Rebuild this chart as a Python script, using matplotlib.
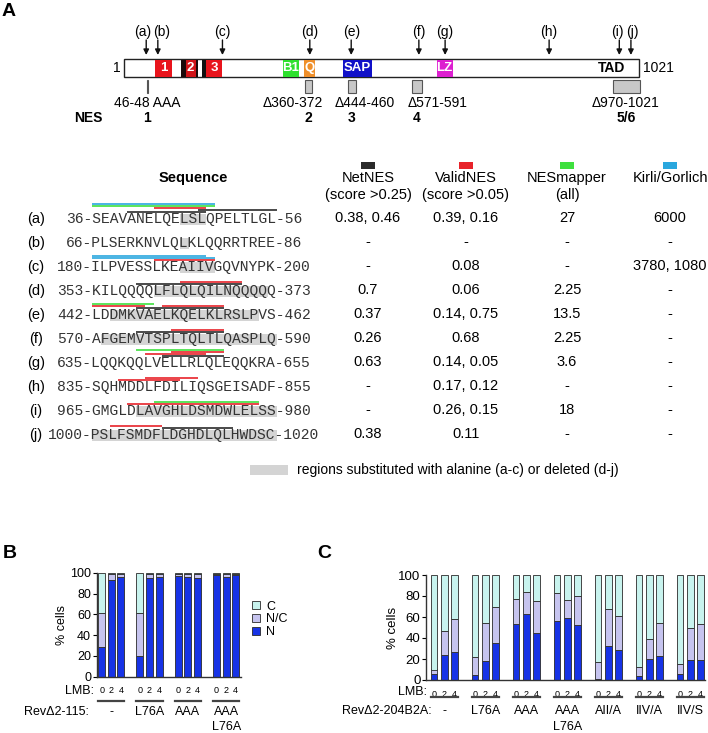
import matplotlib
matplotlib.use("Agg")
import matplotlib.pyplot as plt
from matplotlib.patches import Rectangle
import numpy as np

plt.rcParams['font.family'] = ['Liberation Sans', 'DejaVu Sans']

W, H = 708, 733

# ---------------- panel A: protein map (residue numbers) ----------------
protein_len = 1021
arrow_names = ["(a)", "(b)", "(c)", "(d)", "(e)", "(f)", "(g)", "(h)", "(i)", "(j)"]
arrow_res = [45, 68, 196, 369, 451, 585, 637, 843, 982, 1005]
arrow_label_res = [38, 76, 196, 369, 451, 585, 637, 843, 979, 1008]

dom_start = [63, 114, 123, 143, 155, 164, 315, 357, 434, 620]
dom_end = [97, 123, 143, 147, 164, 196, 347, 379, 492, 652]
dom_color = ["#e8141c", "#1a0a0a", "#d01418", "#1a0a0a", "#111111", "#e8141c",
             "#2ee02e", "#ef8f2a", "#1010c8", "#dd1fd0"]
dom_text = ["1", "", "2", "", "", "3", "B1", "Q", "SAP", "LZ"]

del_start = [46, 360, 444, 571, 970]
del_end = [48, 372, 460, 591, 1021]
del_labels = ["46-48 AAA", "\u0394360-372", "\u0394444-460", "\u0394571-591", "\u0394970-1021"]
del_label_res = [47, 335, 478, 623, 994]
nes_names = ["1", "2", "3", "4", "5/6"]
nes_res = [46, 366, 452, 581, 995]

# ---------------- panel A: sequence table ----------------
row_names = ["(a)", "(b)", "(c)", "(d)", "(e)", "(f)", "(g)", "(h)", "(i)", "(j)"]
seq_start = [36, 66, 180, 353, 442, 570, 635, 835, 965, 1000]
seq_end = [56, 86, 200, 373, 462, 590, 655, 855, 980, 1020]
sequences = ["SEAVANELQELSLQPELTLGL", "PLSERKNVLQLKLQQRRTREE", "ILPVESSLKEAIIVGQVNYPK",
             "KILQQQQLFLQLQILNQQQQQ", "LDDMKVAELKQELKLRSLPVS", "AFGEMVTSPLTQLTLQASPLQ",
             "LQQKQQLVELLRLQLEQQKRA", "SQHMDDLFDILIQSGEISADF", "GMGLDLAVGHLDSMDWLELSS",
             "PSLFSMDFLDGHDLQLHWDSC"]
# substituted / deleted stretch (character index, end exclusive)
gray_span = [(10, 13), (10, 11), (10, 14), (7, 20), (2, 19), (1, 21), None, None, (5, 21), (0, 21)]
# predicted NES stretches: (tool, first char, end char, stack level)
predicted = [
    [("net", 4, 13, 0), ("net", 12, 21, 1), ("valid", 7, 13, 2), ("mapper", 0, 14, 3), ("kirli", 0, 14, 4)],
    [],
    [("valid", 7, 14, 0), ("kirli", 0, 14, 1), ("kirli", 0, 13, 2)],
    [("net", 5, 17, 0), ("valid", 10, 17, 1)],
    [("net", 5, 15, 0), ("valid", 8, 15, 1), ("valid", 0, 6, 1), ("mapper", 0, 7, 2)],
    [("net", 5, 15, 0), ("valid", 9, 15, 1)],
    [("net", 8, 15, 0), ("valid", 6, 13, 1), ("valid", 9, 15, 2), ("mapper", 5, 15, 3)],
    [("valid", 3, 10, 0), ("valid", 6, 12, 1)],
    [("valid", 4, 10, 0), ("valid", 10, 19, 0), ("mapper", 7, 19, 1)],
    [("net", 8, 16, 0), ("valid", 2, 8, 1)],
]
tool_color = {"net": "#2b2b2b", "valid": "#e8232a", "mapper": "#3ee03e", "kirli": "#2aa7de"}

col_titles = ["NetNES\n(score >0.25)", "ValidNES\n(score >0.05)", "NESmapper\n(all)", "Kirli/Gorlich"]
col_keys = ["net", "valid", "mapper", "kirli"]
netnes = ["0.38, 0.46", "-", "-", "0.7", "0.37", "0.26", "0.63", "-", "-", "0.38"]
validnes = ["0.39, 0.16", "-", "0.08", "0.06", "0.14, 0.75", "0.68", "0.14, 0.05", "0.17, 0.12", "0.26, 0.15", "0.11"]
nesmapper = ["27", "-", "-", "2.25", "13.5", "2.25", "3.6", "-", "18", "-"]
kirli = ["6000", "-", "3780, 1080", "-", "-", "-", "-", "-", "-", "-"]

# ---------------- panels B and C ----------------
lmb = ["0", "2", "4"]
b_groups = ["-", "L76A", "AAA", "AAA\nL76A"]
b_N = [29, 93, 96, 20, 95, 96, 97, 96, 95, 98, 96, 98]
b_NC = [32, 6, 3, 41, 4, 3, 2, 3, 4, 1, 3, 1]

c_groups = ["-", "L76A", "AAA", "AAA\nL76A", "AII/A", "IIV/A", "IIV/S"]
c_N = [6, 24, 27, 5, 18, 35, 53, 63, 45, 56, 59, 52, 1, 32, 29, 4, 20, 23, 6, 19, 19]
c_N_NC = [10, 47, 58, 22, 54, 70, 77, 84, 75, 83, 76, 80, 17, 68, 61, 12, 39, 54, 15, 50, 53]

col_N, col_NC, col_C = "#1733e6", "#c6c4ef", "#c8f3ee"

fig = plt.figure(figsize=(7.08, 7.33), dpi=100)
ax0 = fig.add_axes([0, 0, 1, 1])
ax0.set_xlim(0, W)
ax0.set_ylim(H, 0)
ax0.axis("off")

ax0.text(2, 12, "A", fontsize=14, fontweight="bold", va="center")
ax0.text(3, 553, "B", fontsize=14, fontweight="bold", va="center")
ax0.text(317, 553, "C", fontsize=14, fontweight="bold", va="center")

# protein diagram
axp = fig.add_axes([124 / W, 1 - 125 / H, 515 / W, 105 / H])
axp.set_xlim(1, protein_len)
axp.set_ylim(125, 20)
axp.axis("off")
top, bot = 59, 77
axp.add_patch(Rectangle((1, top), protein_len - 1, bot - top, fc="white", ec="#222222", lw=1.0, clip_on=False))
for s, e, c, t in zip(dom_start, dom_end, dom_color, dom_text):
    axp.add_patch(Rectangle((s, top + 0.5), e - s, bot - top - 1, fc=c, ec="none", clip_on=False))
    if t:
        axp.text((s + e) / 2, (top + bot) / 2, t, color="white", fontsize=9.5, fontweight="bold",
                 ha="center", va="center")
axp.text(967, (top + bot) / 2, "TAD", fontsize=10, fontweight="bold", ha="center", va="center")
axp.text(-6, (top + bot) / 2, "1", fontsize=10, ha="right", va="center")
axp.text(protein_len + 8, (top + bot) / 2, "1021", fontsize=10, ha="left", va="center")
for r, lr, name in zip(arrow_res, arrow_label_res, arrow_names):
    axp.annotate("", xy=(r, 55), xytext=(r, 40),
                 arrowprops=dict(arrowstyle="-|>", color="#111111", lw=1.0, shrinkA=0, shrinkB=0,
                                 mutation_scale=8))
    axp.text(lr, 32, name, fontsize=10, ha="center", va="center")
for s, e, lab, lx in zip(del_start, del_end, del_labels, del_label_res):
    axp.add_patch(Rectangle((s, 80), e - s + 1, 13, fc="#c8c8c8", ec="#555555", lw=0.8, clip_on=False))
    axp.text(lx, 103, lab, fontsize=10, ha="center", va="center")
axp.text(-69, 118, "NES", fontsize=10, fontweight="bold", ha="center", va="center")
for n, r in zip(nes_names, nes_res):
    axp.text(r, 118, n, fontsize=10, fontweight="bold", ha="center", va="center")

# sequence table
seq_x0, cw = 92, 8.8
row_y0, row_dy = 218.5, 24.0
ax0.text(193, 178, "Sequence", fontsize=10.5, fontweight="bold", ha="center", va="center")
col_x = [368, 466, 567, 670]
for cx, title, key in zip(col_x, col_titles, col_keys):
    ax0.add_patch(Rectangle((cx - 7, 161.5), 14, 7, fc=tool_color[key], ec="none"))
    ax0.text(cx, 171, title, fontsize=10.5, ha="center", va="top", linespacing=1.25)
values = [netnes, validnes, nesmapper, kirli]
for i, name in enumerate(row_names):
    y = row_y0 + i * row_dy
    ax0.text(36, y, name, fontsize=10.5, ha="center", va="center")
    prefix = f"{seq_start[i]}-"
    ax0.text(seq_x0 - len(prefix) * cw, y + 4.2, f"{prefix}{sequences[i]}-{seq_end[i]}",
             family="Liberation Mono", fontsize=10.56, color="#333333", ha="left", va="baseline", zorder=3)
    if gray_span[i]:
        s, e = gray_span[i]
        ax0.add_patch(Rectangle((seq_x0 + s * cw, y - 5), (e - s) * cw, 11, fc="#d4d4d4", ec="none", zorder=1))
    for tool, s, e, lvl in predicted[i]:
        yl = y - 7 - 1.8 * lvl
        ax0.plot([seq_x0 + s * cw, seq_x0 + e * cw], [yl, yl], color=tool_color[tool], lw=1.2,
                 solid_capstyle="butt", zorder=2 + lvl * 0.01)
    for cx, vals in zip(col_x, values):
        ax0.text(cx, y, vals[i], fontsize=10.5, ha="center", va="center")

ax0.add_patch(Rectangle((250, 465), 38, 10, fc="#d4d4d4", ec="none"))
ax0.text(297, 470, "regions substituted with alanine (a-c) or deleted (d-j)", fontsize=10, ha="left", va="center")


def stacked(ax, groups, N, N_NC, width, fs):
    N = np.array(N, float)
    NC = np.array(N_NC, float) - N
    C = 100 - N - NC
    ng = len(groups)
    x = np.array([g * 4 + j for g in range(ng) for j in range(3)], float)
    kw = dict(width=width, edgecolor="#2a2a2a", linewidth=0.6)
    ax.bar(x, N, color=col_N, label="N", **kw)
    ax.bar(x, NC, bottom=N, color=col_NC, label="N/C", **kw)
    ax.bar(x, C, bottom=N + NC, color=col_C, label="C", **kw)
    ax.set_ylim(0, 100)
    ax.set_yticks(range(0, 101, 20))
    for sp in ["top", "right"]:
        ax.spines[sp].set_visible(False)
    for sp in ["left", "bottom"]:
        ax.spines[sp].set_linewidth(1.0)
        ax.spines[sp].set_color("#333333")
    ax.tick_params(axis="y", direction="out", length=3, width=0.8, labelsize=fs, pad=1)
    ax.set_xticks(x)
    ax.set_xticklabels(lmb * ng, fontsize=6.5)
    ax.tick_params(axis="x", length=0, pad=7)
    ax.set_ylabel("% cells", fontsize=fs)
    return x


def group_labels(ax, groups, y_line, y_text, y_text2, half):
    tr = ax.get_xaxis_transform()
    for g, lab in enumerate(groups):
        ax.plot([g * 4 - half, g * 4 + 2 + half], [y_line, y_line], transform=tr, clip_on=False,
                color="#444444", lw=1.6)
        parts = lab.split("\n")
        ax.text(g * 4 + 1, y_text, parts[0], transform=tr, ha="center", va="center", fontsize=9)
        if len(parts) > 1:
            ax.text(g * 4 + 1, y_text2, parts[1], transform=tr, ha="center", va="center", fontsize=9)


# panel B
axB = fig.add_axes([96.7 / W, 1 - 676.7 / H, 144 / W, 104 / H])
axB.set_xlim(-0.52, 14.52)
stacked(axB, b_groups, b_N, np.array(b_N) + np.array(b_NC), 0.73, 9)
axB.yaxis.set_label_coords(-0.2, 0.5)
group_labels(axB, b_groups, -0.23, -0.337, -0.484, 0.37)
ax0.text(94, 691, "LMB:", fontsize=9, ha="right", va="center")
ax0.text(89, 711.7, "Rev\u03942-115:", fontsize=9, ha="right", va="center")
h, l = axB.get_legend_handles_labels()
axB.legend(h[::-1], l[::-1], loc="upper left", bbox_to_anchor=(1.08, 0.73), frameon=False, fontsize=9,
           handlelength=0.6, handleheight=0.6, labelspacing=0.05, handletextpad=0.5, borderpad=0, borderaxespad=0)

# panel C
axC = fig.add_axes([426 / W, 1 - 680 / H, 279 / W, 105 / H])
axC.set_xlim(-0.78, 26.44)
stacked(axC, c_groups, c_N, c_N_NC, 0.65, 9.5)
axC.yaxis.set_label_coords(-0.097, 0.5)
group_labels(axC, c_groups, -0.159, -0.292, -0.448, 0.33)
ax0.text(427, 692, "LMB:", fontsize=9, ha="right", va="center")
ax0.text(432, 710.7, "Rev\u03942-204B2A:", fontsize=9, ha="right", va="center")

fig.savefig("out.png", dpi=100)
